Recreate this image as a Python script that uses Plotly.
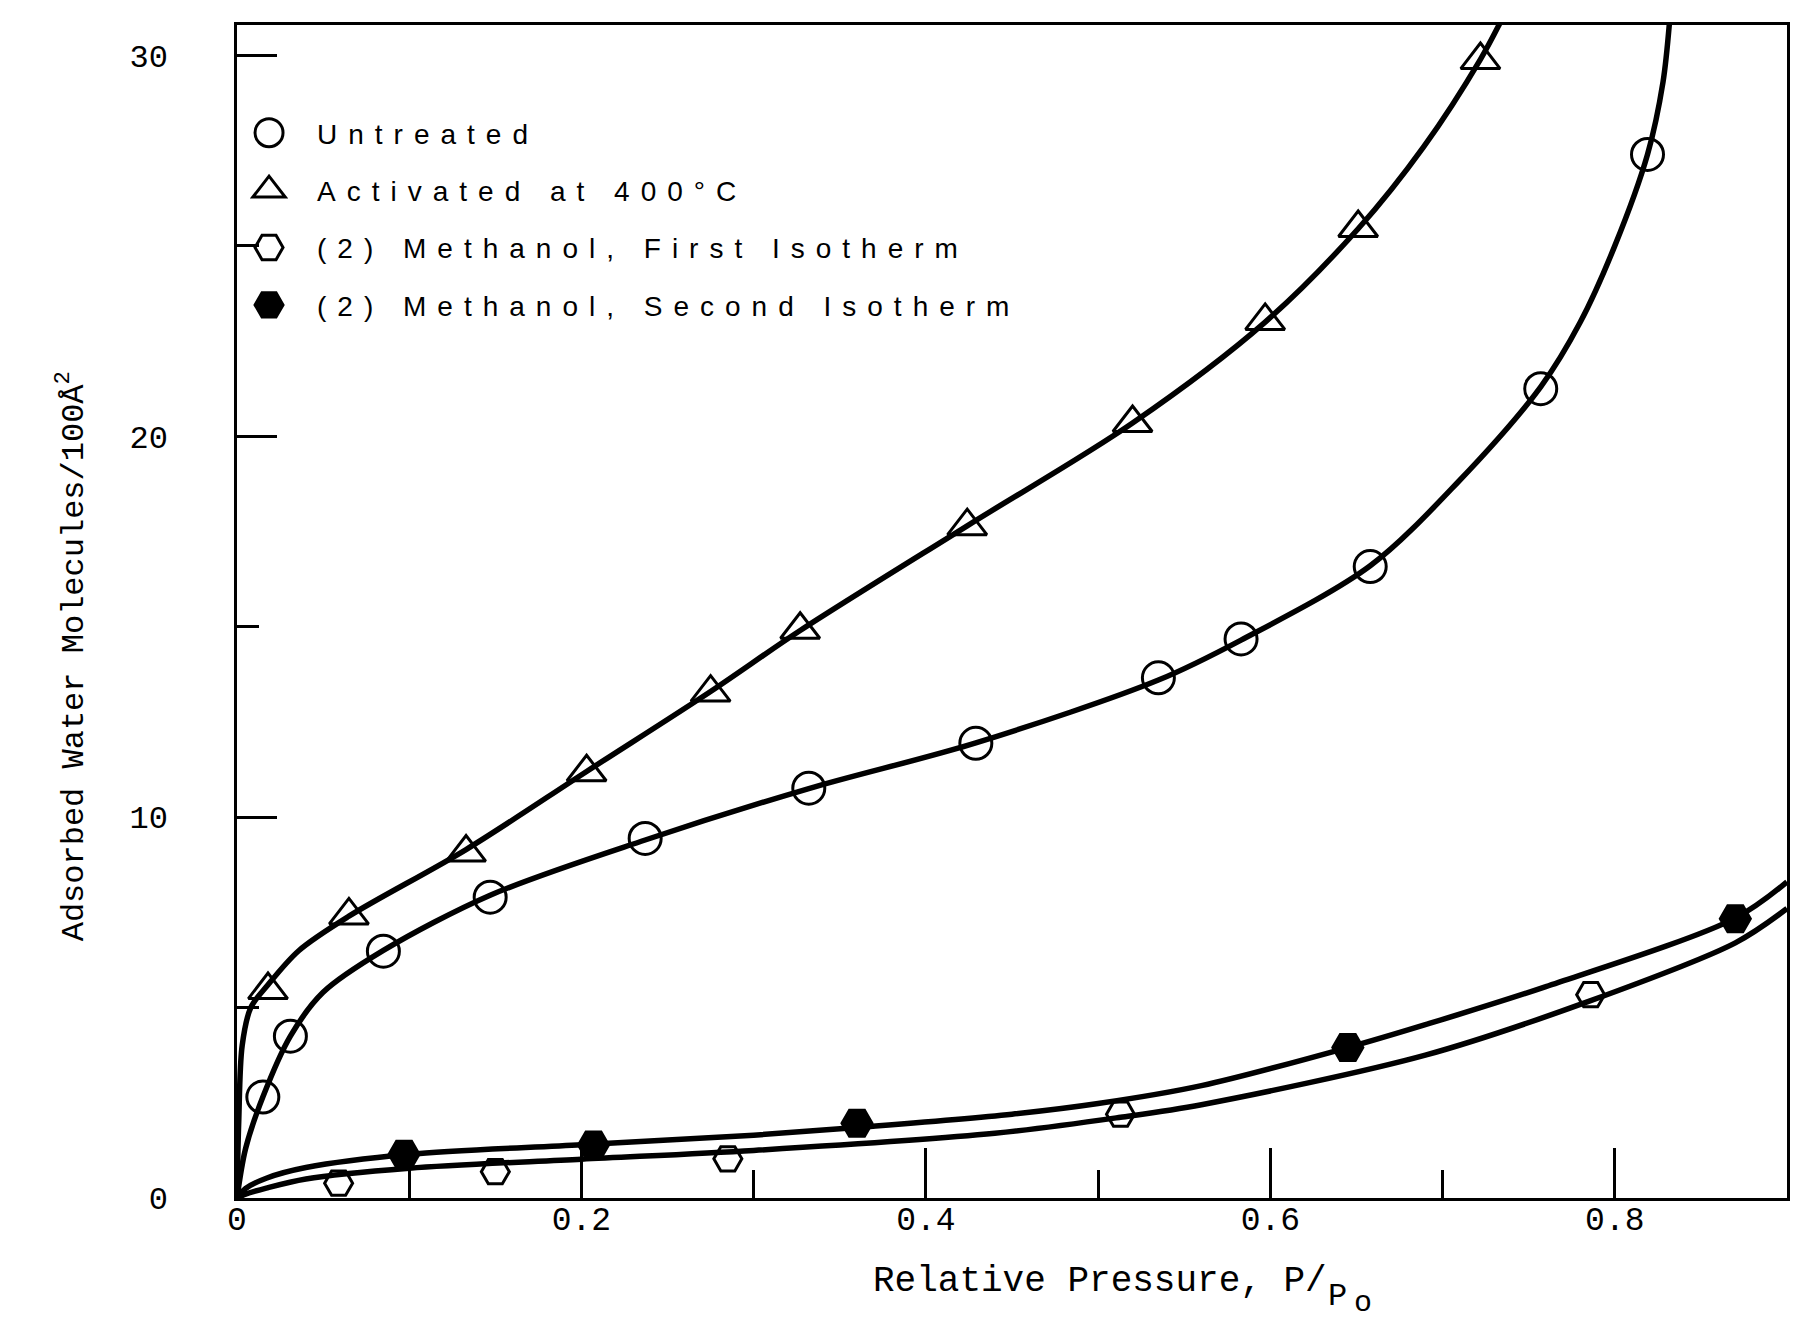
import plotly.graph_objects as go

# ---------------- data ----------------
# measured points
untreated_x = [0.015, 0.031, 0.085, 0.147, 0.237, 0.332, 0.429, 0.535, 0.583, 0.658, 0.757, 0.819]
untreated_y = [2.65, 4.25, 6.48, 7.90, 9.44, 10.76, 11.94, 13.66, 14.68, 16.58, 21.25, 27.40]

activated_x = [0.018, 0.065, 0.133, 0.203, 0.275, 0.327, 0.424, 0.520, 0.597, 0.651, 0.722]
activated_y = [5.46, 7.42, 9.07, 11.18, 13.27, 14.92, 17.64, 20.35, 23.03, 25.47, 29.88]

meoh_first_x = [0.059, 0.150, 0.285, 0.513, 0.786]
meoh_first_y = [0.39, 0.69, 1.03, 2.20, 5.34]

meoh_second_x = [0.097, 0.207, 0.360, 0.645, 0.870]
meoh_second_y = [1.15, 1.39, 1.96, 3.95, 7.33]

# smooth curves drawn through the data
untreated_curve_x = [0, 0.005, 0.015, 0.031, 0.050, 0.085, 0.147, 0.237, 0.332, 0.429, 0.535,
                     0.583, 0.658, 0.709, 0.757, 0.780, 0.800, 0.819, 0.828, 0.832]
untreated_curve_y = [0, 1.30, 2.65, 4.25, 5.40, 6.50, 7.95, 9.40, 10.75, 11.95, 13.60,
                     14.65, 16.60, 18.80, 21.30, 23.00, 25.00, 27.40, 29.30, 31.00]

activated_curve_x = [0, 0.001, 0.003, 0.008, 0.018, 0.036, 0.065, 0.133, 0.203, 0.275, 0.327,
                     0.424, 0.520, 0.597, 0.651, 0.689, 0.722, 0.735]
activated_curve_y = [0, 2.00, 4.00, 5.00, 5.60, 6.50, 7.40, 9.15, 11.20, 13.30, 14.90,
                     17.65, 20.35, 23.00, 25.45, 27.60, 29.90, 31.00]

meoh_second_curve_x = [0, 0.005, 0.017, 0.040, 0.100, 0.200, 0.300, 0.360, 0.450, 0.500,
                       0.560, 0.645, 0.690, 0.760, 0.870, 0.900]
meoh_second_curve_y = [0, 0.25, 0.52, 0.80, 1.15, 1.40, 1.65, 1.85, 2.20, 2.48,
                       2.95, 3.95, 4.55, 5.55, 7.35, 8.30]

meoh_first_curve_x = [0, 0.005, 0.017, 0.040, 0.100, 0.200, 0.300, 0.440, 0.513, 0.560,
                      0.690, 0.784, 0.870, 0.900]
meoh_first_curve_y = [0, 0.10, 0.26, 0.50, 0.78, 1.02, 1.25, 1.70, 2.12, 2.45,
                      3.75, 5.15, 6.70, 7.60]

series_names = ["Untreated", "Activated at 400°C",
                "(2) Methanol, First Isotherm", "(2) Methanol, Second Isotherm"]

x_tickvals = [0, 0.2, 0.4, 0.6, 0.8]
x_ticktext = ["0", "0.2", "0.4", "0.6", "0.8"]
x_minor = [0.1, 0.3, 0.5, 0.7]
y_tickvals = [0, 10, 20, 30]
y_ticktext = ["0", "10", "20", "30"]
y_minor = [5, 15, 25]

x_title = "Relative Pressure, P/"
y_title = "Adsorbed Water Molecules/100Å<sup>2</sup>"

# ---------------- figure ----------------
W, H = 1801, 1320
ML, MR, MT, MB = 237, 11, 25, 122
PW, PH = W - ML - MR, H - MT - MB

def px_x(p):
    return (p - ML) / PW

def px_y(p):
    return (H - MB - p) / PH

mono = "Liberation Mono, Courier New, monospace"
sans = "Liberation Sans, Arial, Helvetica, sans-serif"
LINE_W = 5.5

fig = go.Figure()

curves = [
    (untreated_curve_x, untreated_curve_y),
    (activated_curve_x, activated_curve_y),
    (meoh_first_curve_x, meoh_first_curve_y),
    (meoh_second_curve_x, meoh_second_curve_y),
]
for cx, cy in curves:
    fig.add_trace(go.Scatter(
        x=cx, y=cy, mode="lines", showlegend=False, hoverinfo="skip",
        line=dict(color="black", width=LINE_W, shape="spline", smoothing=0.9),
    ))

markers = [
    (untreated_x, untreated_y, "circle-open", 32, "black"),
    (activated_x, activated_y, "triangle-up-open", 34, "black"),
    (meoh_first_x, meoh_first_y, "hexagon2-open", 28, "black"),
    (meoh_second_x, meoh_second_y, "hexagon2", 30, "black"),
]
for i, (mx, my, sym, sz, col) in enumerate(markers):
    fig.add_trace(go.Scatter(
        x=mx, y=my, mode="markers", name=series_names[i], legendgroup=f"g{i}",
        marker=dict(symbol=sym, size=sz, color=col, line=dict(color="black", width=3)),
    ))

axis_common = dict(
    showline=True, linecolor="black", linewidth=2.5, mirror=True,
    showgrid=False, zeroline=False, ticks="inside", tickcolor="black",
    tickwidth=2.5,
)

fig.update_layout(
    width=W, height=H,
    margin=dict(l=ML, r=MR, t=MT, b=MB),
    paper_bgcolor="white", plot_bgcolor="white",
    xaxis=dict(range=[0, 0.9], tickvals=x_tickvals, ticktext=x_ticktext, ticklen=50,
               minor=dict(tickvals=x_minor, ticks="inside", ticklen=28, tickwidth=2.5,
                          tickcolor="black"),
               tickfont=dict(family=mono, size=33, color="black"),
               ticklabelstandoff=-10, **axis_common),
    yaxis=dict(range=[0, 30.8], tickvals=y_tickvals, ticktext=y_ticktext, ticklen=40,
               minor=dict(tickvals=y_minor, ticks="inside", ticklen=22, tickwidth=2.5,
                          tickcolor="black"),
               tickfont=dict(family=mono, size=32, color="black"),
               ticklabelstandoff=60, **axis_common),
    legend=dict(x=px_x(221), y=px_y(108), xanchor="left", yanchor="top",
                font=dict(family=sans, size=28, color="black"),
                bgcolor="rgba(0,0,0,0)", borderwidth=0, itemwidth=86,
                traceorder="grouped", tracegroupgap=18),
    showlegend=True,
)

fig.add_annotation(text=y_title, xref="paper", yref="paper", x=px_x(71), y=px_y(656),
                   xanchor="center", yanchor="middle", textangle=-90, showarrow=False,
                   font=dict(family=mono, size=32, color="black"))
fig.add_annotation(text=x_title, xref="paper", yref="paper", x=px_x(872), y=px_y(1281),
                   xanchor="left", yanchor="middle", showarrow=False,
                   font=dict(family=mono, size=36, color="black"))
fig.add_annotation(text="P", xref="paper", yref="paper", x=px_x(1328), y=px_y(1296),
                   xanchor="left", yanchor="middle", showarrow=False,
                   font=dict(family=mono, size=32, color="black"))
fig.add_annotation(text="o", xref="paper", yref="paper", x=px_x(1354), y=px_y(1303),
                   xanchor="left", yanchor="middle", showarrow=False,
                   font=dict(family=mono, size=30, color="black"))

post = """
var gd = document.getElementById('{plot_id}');
var st = document.createElement('style');
st.textContent = '.legend .legendtext{letter-spacing:11px;} ' +
  '.legend .legendpoints path{vector-effect:non-scaling-stroke;} ' +
  '.legend, .legend .scrollbox, .legend g{clip-path:none !important;}';
document.head.appendChild(st);
function growLegend(){
  gd.querySelectorAll('.legend .legendpoints path').forEach(function(p){
    var t = p.getAttribute('transform') || '';
    if (t.indexOf('scale') < 0) { p.setAttribute('transform', t + ' scale(1.75)'); }
  });
  gd.querySelectorAll('.legend [clip-path]').forEach(function(e){ e.removeAttribute('clip-path'); });
}
growLegend();
if (gd.on) { gd.on('plotly_afterplot', growLegend); }
"""

fig.write_html("out.html", post_script=post)
